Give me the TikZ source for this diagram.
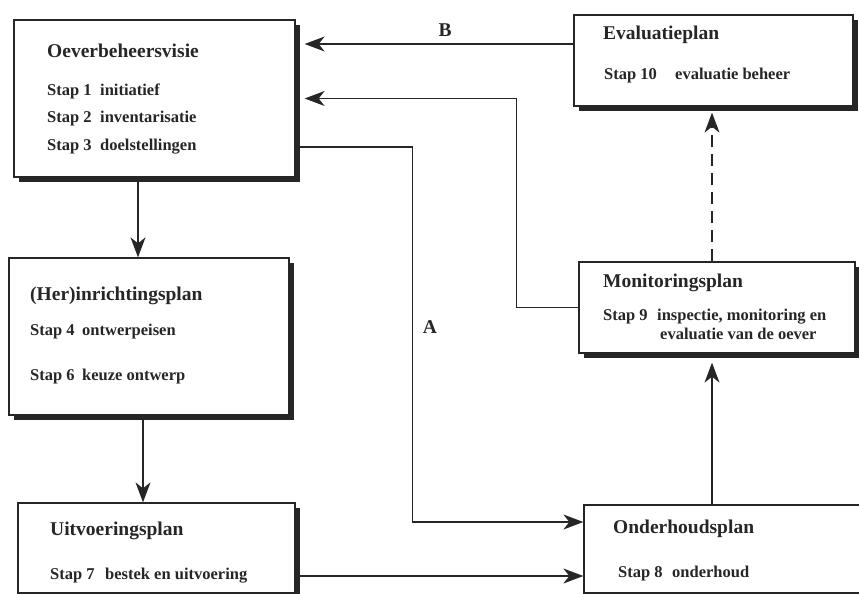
\documentclass[tikz,border=0pt]{standalone}
\usepackage{fontspec}
\setmainfont{Liberation Serif}
\usetikzlibrary{arrows.meta,shadows}

\newcommand{\stapnr}[2]{\makebox[#1][l]{Stap #2}}

\begin{document}
\begin{tikzpicture}[x=1pt, y=-1pt,
	plan/.style={draw=black!85, line width=1.3pt, fill=white, inner sep=0pt,
		drop shadow={shadow xshift=5pt, shadow yshift=-5pt, fill=black!85, opacity=1}},
	titel/.style={anchor=base west, inner sep=0pt, text=black!85,
		font=\fontsize{19.5}{22}\selectfont\bfseries},
	stap/.style={anchor=base west, inner sep=0pt, text=black!85,
		font=\fontsize{16.5}{19}\selectfont\bfseries},
	letter/.style={inner sep=0pt, text=black!85,
		font=\fontsize{19.5}{22}\selectfont\bfseries},
	pijl/.style={draw=black!85, line width=1.2pt, -{Stealth[length=20pt, width=15pt, inset=6pt]}}]
	\path[use as bounding box, clip] (0,0) rectangle (859,594);

	% boxes
	\node[plan, minimum width=281, minimum height=157] (visie)     at (154.5, 98.5) {};
	\node[plan, minimum width=279, minimum height=91]  (eval)      at (713.5, 60.5) {};
	\node[plan, minimum width=280, minimum height=157] (inricht)   at (149, 336.5)  {};
	\node[plan, minimum width=276, minimum height=91]  (monitor)   at (717, 307.5)  {};
	\node[plan, minimum width=277, minimum height=90]  (uitvoer)   at (156.5, 548)  {};
	\node[plan, minimum width=291, minimum height=88]  (onderhoud) at (729.5, 549)  {};

	% texts
	\node[titel] (visieT)  at (47, 57)  {Oeverbeheersvisie};
	\node[stap]  (visieS1) at (47, 95)  {\stapnr{53pt}{1}initiatief};
	\node[stap]  (visieS2) at (47, 122) {\stapnr{53pt}{2}inventarisatie};
	\node[stap]  (visieS3) at (47, 150) {\stapnr{53pt}{3}doelstellingen};

	\node[titel] (evalT)  at (603, 40) {Evaluatieplan};
	\node[stap]  (evalS1) at (604, 80) {\stapnr{71pt}{10}evaluatie beheer};

	\node[titel] (inrichtT)  at (30, 300) {(Her)inrichtingsplan};
	\node[stap]  (inrichtS1) at (30, 335) {\stapnr{52pt}{4}ontwerpeisen};
	\node[stap]  (inrichtS2) at (30, 380) {\stapnr{52pt}{6}keuze ontwerp};

	\node[titel] (monitorT)  at (603, 287) {Monitoringsplan};
	\node[stap]  (monitorS1) at (603, 320) {\stapnr{54pt}{9}inspectie, monitoring en};
	\node[stap]  (monitorS2) at (660, 339) {evaluatie van de oever};

	\node[titel] (uitvoerT)  at (50, 535) {Uitvoeringsplan};
	\node[stap]  (uitvoerS1) at (50, 579) {\stapnr{55pt}{7}bestek en uitvoering};

	\node[titel] (onderhoudT)  at (613, 533) {Onderhoudsplan};
	\node[stap]  (onderhoudS1) at (618, 577) {\stapnr{54pt}{8}onderhoud};

	\node[letter] (labelA) at (430, 327) {A};
	\node[letter] (labelB) at (445, 30)  {B};

	% connectors
	\draw[pijl] (eval.west |- 0,44) -- ([xshift=9pt]visie.east |- 0,44);
	\draw[pijl] (monitor.west) -- ++(-62,0) |- ([xshift=9pt]visie.east);
	\draw[pijl] (visie.east |- 0,147) -- ++(117,0) |- (onderhoud.west |- 0,522);
	\draw[pijl] (uitvoer.east |- 0,576) -- (onderhoud.west |- 0,576);
	\draw[pijl] (visie.south -| 138,0) -- (inricht.north -| 138,0);
	\draw[pijl] (inricht.south -| 143,0) -- (uitvoer.north -| 143,0);
	\draw[pijl] (onderhoud.north -| 712,0) -- ([yshift=-9pt]monitor.south -| 712,0);
	\draw[pijl, dash pattern=on 12pt off 7pt] (monitor.north -| 712,0) -- ([yshift=-6pt]eval.south -| 712,0);
\end{tikzpicture}
\end{document}
